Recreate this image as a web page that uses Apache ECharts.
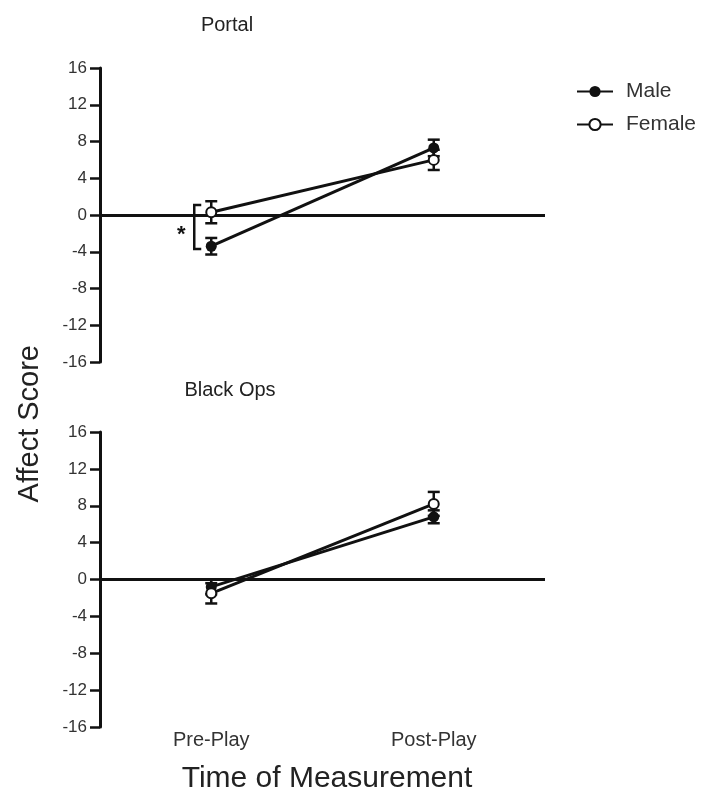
<!DOCTYPE html>
<html><head><meta charset="utf-8">
<script src="https://cdn.jsdelivr.net/npm/echarts@6/dist/echarts.min.js"></script>
<style>html,body{margin:0;padding:0;background:#fff}#c{width:706px;height:797px}</style>
</head><body><div id="c"></div>
<script>
const categories = ['Pre-Play', 'Post-Play'];
const yTicks = [-16, -12, -8, -4, 0, 4, 8, 12, 16];
const panelTitles = ['Portal', 'Black Ops'];
const portalMale = [-3.4, 7.3];
const portalMaleErr = [0.9, 0.9];
const portalFemale = [0.3, 6.0];
const portalFemaleErr = [1.2, 1.1];
const blackOpsMale = [-0.8, 6.8];
const blackOpsMaleErr = [0.8, 0.7];
const blackOpsFemale = [-1.5, 8.2];
const blackOpsFemaleErr = [1.1, 1.3];
const sigPair = [portalFemale[0], portalMale[0]];

const FONT = '"Liberation Sans", Arial, sans-serif';
const chart = echarts.init(document.getElementById('c'));

function errSeries(vals, errs, idx) {
  return {
    type: 'custom', xAxisIndex: idx, yAxisIndex: idx, z: 3, silent: true,
    data: vals.map((v, i) => [i, v - errs[i], v + errs[i]]),
    renderItem: function (params, api) {
      const lo = api.coord([api.value(0), api.value(1)]);
      const hi = api.coord([api.value(0), api.value(2)]);
      const w = 6;
      const st = { stroke: '#111', lineWidth: 2.5 };
      return { type: 'group', children: [
        { type: 'line', shape: { x1: lo[0], y1: lo[1], x2: hi[0], y2: hi[1] }, style: st },
        { type: 'line', shape: { x1: lo[0] - w, y1: lo[1], x2: lo[0] + w, y2: lo[1] }, style: st },
        { type: 'line', shape: { x1: hi[0] - w, y1: hi[1], x2: hi[0] + w, y2: hi[1] }, style: st }
      ]};
    }
  };
}

function lineSeries(name, vals, idx, filled) {
  return {
    name: name, type: 'line', xAxisIndex: idx, yAxisIndex: idx, z: 5,
    data: vals,
    symbol: filled ? 'circle' : 'emptyCircle', symbolSize: filled ? 11 : 10,
    lineStyle: { color: '#111', width: 3 },
    itemStyle: { color: '#111', borderColor: '#111', borderWidth: filled ? 0 : 2.5 },
    emphasis: { disabled: true }
  };
}

const grids = [
  { left: 100, width: 445, top: 68, height: 294 },
  { left: 100, width: 445, top: 432, height: 295 }
];

const xAxes = grids.map((g, i) => ({
  type: 'category', gridIndex: i, data: categories, boundaryGap: true,
  axisLine: { show: false }, axisTick: { show: false },
  axisLabel: { show: i === 1, fontFamily: FONT, fontSize: 20, color: '#333', margin: 3 }
}));

const yAxes = grids.map((g, i) => ({
  type: 'value', gridIndex: i, min: yTicks[0], max: yTicks[yTicks.length - 1], interval: 4,
  axisLine: { show: true, lineStyle: { color: '#111', width: 3 } },
  axisTick: { show: true, length: 10, lineStyle: { color: '#111', width: 2.5 } },
  axisLabel: { fontFamily: FONT, fontSize: 17, color: '#333', margin: 13 },
  splitLine: { show: false }
}));

const zeroLines = [0, 1].map(i => ({
  type: 'line', xAxisIndex: i, yAxisIndex: i, data: [], silent: true,
  markLine: { silent: true, symbol: 'none', label: { show: false },
    lineStyle: { color: '#111', width: 3, type: 'solid' }, data: [{ yAxis: 0 }] }
}));

const bracket = {
  type: 'custom', xAxisIndex: 0, yAxisIndex: 0, z: 4, silent: true,
  data: [[0, sigPair[0] + 0.8, sigPair[1] - 0.3]],
  renderItem: function (params, api) {
    const a = api.coord([api.value(0), api.value(1)]);
    const b = api.coord([api.value(0), api.value(2)]);
    const x = a[0] - 17;
    const st = { stroke: '#111', lineWidth: 2.5, fill: null };
    return { type: 'group', children: [
      { type: 'polyline', shape: { points: [[x + 7, a[1]], [x, a[1]], [x, b[1]], [x + 7, b[1]]] }, style: st },
      { type: 'text', style: { text: '*', x: x - 13, y: (a[1] + b[1]) / 2 + 8, font: 'bold 22px ' + FONT, fill: '#111', textAlign: 'center', textVerticalAlign: 'middle' } }
    ]};
  }
};

chart.setOption({
  animation: false,
  backgroundColor: '#fff',
  title: [
    { text: panelTitles[0], left: 222, top: 10, textAlign: 'center', textStyle: { fontFamily: FONT, fontSize: 20, fontWeight: 'normal', color: '#222' } },
    { text: panelTitles[1], left: 225, top: 375, textAlign: 'center', textStyle: { fontFamily: FONT, fontSize: 20, fontWeight: 'normal', color: '#222' } },
    { text: 'Time of Measurement', left: 322, top: 759, textAlign: 'center', textStyle: { fontFamily: FONT, fontSize: 30, fontWeight: 'normal', color: '#222' } }
  ],
  legend: {
    data: ['Male', 'Female'], orient: 'vertical', left: 571, top: 76, itemGap: 12,
    itemWidth: 36, itemHeight: 14,
    textStyle: { fontFamily: FONT, fontSize: 21, color: '#333', padding: [0, 0, 0, 8] }
  },
  graphic: [{
    type: 'text', left: 15, top: 345, rotation: Math.PI / 2,
    style: { text: 'Affect Score', font: '29px ' + FONT, fill: '#222' }
  }],
  grid: grids, xAxis: xAxes, yAxis: yAxes,
  series: [
    zeroLines[0], zeroLines[1],
    errSeries(portalMale, portalMaleErr, 0),
    errSeries(portalFemale, portalFemaleErr, 0),
    errSeries(blackOpsMale, blackOpsMaleErr, 1),
    errSeries(blackOpsFemale, blackOpsFemaleErr, 1),
    lineSeries('Male', portalMale, 0, true),
    lineSeries('Female', portalFemale, 0, false),
    lineSeries('Male', blackOpsMale, 1, true),
    lineSeries('Female', blackOpsFemale, 1, false),
    bracket
  ]
});
</script></body></html>
